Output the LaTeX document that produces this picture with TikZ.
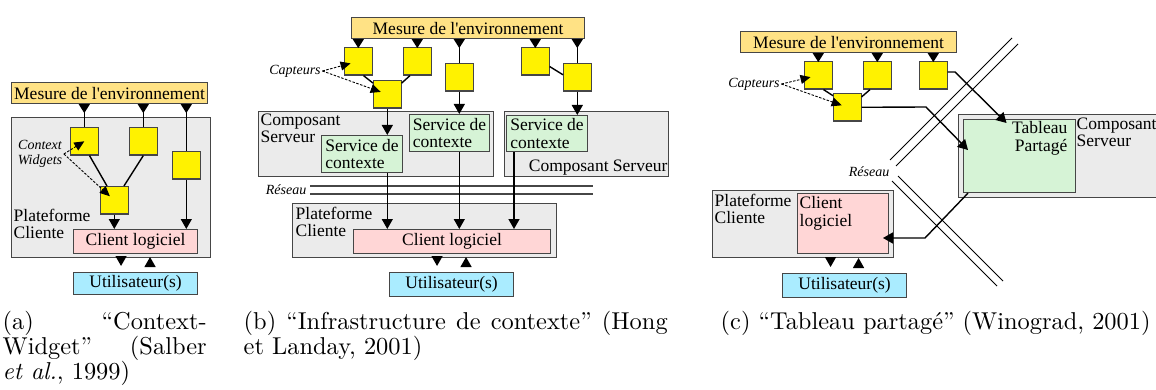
\documentclass[tikz,border=0pt]{standalone}
\usepackage{fontspec}
\usepackage{tikz}
\usetikzlibrary{arrows.meta}
\usetikzlibrary{positioning}

\newfontfamily\schemafont{Liberation Serif}
\newfontfamily\legendefont{lmroman10-regular.otf}[ItalicFont=lmroman10-italic.otf]
\newcommand{\schematext}{\schemafont\fontsize{17.5}{17.5}\selectfont}
\newcommand{\schemanote}{\schemafont\itshape\fontsize{14}{15}\selectfont}
\newcommand{\legende}{\legendefont\fontsize{24.4}{23}\selectfont}

\definecolor{mesureorange}{RGB}{255,226,133}
\definecolor{zonegray}{RGB}{235,235,235}
\definecolor{servicegreen}{RGB}{214,243,214}
\definecolor{clientpink}{RGB}{255,214,214}
\definecolor{usercyan}{RGB}{170,236,255}
\definecolor{edgegray}{RGB}{70,70,70}

\begin{document}
\begin{tikzpicture}[x=1pt,y=-1pt,line width=1.4pt,>={Triangle[width=11pt,length=10pt]},
    box node/.style={draw=edgegray,line width=1.1pt,inner sep=0pt,anchor=north west,font=\schematext},
    mesure node/.style={box node,fill=mesureorange,minimum height=21pt},
    capteur node/.style={box node,fill=yellow,minimum width=27.5pt,minimum height=27.5pt},
    zone node/.style={box node,fill=zonegray},
    service node/.style={box node,fill=servicegreen,inner sep=2.5pt,align=left},
    client node/.style={box node,fill=clientpink},
    user node/.style={box node,fill=usercyan,minimum width=124pt,minimum height=24pt},
    text node/.style={anchor=north west,inner sep=1pt,align=left,font=\schematext},
    note node/.style={inner sep=1pt,align=center,font=\schemanote},
    caption node/.style={anchor=north west,inner sep=0pt,align=justify,font=\legende},
    from mesure/.style={{Triangle[reversed,width=11pt,length=9pt]}-},
    sensor link/.style={line width=0.9pt,dash pattern=on 2.5pt off 1.5pt,-{Triangle[width=9pt,length=10pt]}},
    reseau line/.style={draw=edgegray,line width=2.2pt},
    wan line/.style={line width=1pt}]

  \useasboundingbox (0,0) rectangle (1156,390);

  % (a) Context-Widget
  \node[mesure node,minimum width=196pt] (mesA) at (11,82) {Mesure de l'environnement};
  \node[zone node,minimum width=199pt,minimum height=140pt] (platA) at (11,117) {};
  \node[capteur node] (capA1) at (70,127) {};
  \node[capteur node] (capA2) at (129,127) {};
  \node[capteur node] (capA3) at (172,151) {};
  \node[capteur node] (capA4) at (100,186) {};
  \node[client node,minimum width=124pt,minimum height=24pt] (cliA) at (73,229) {Client logiciel};
  \node[user node,minimum height=22pt] (userA) at (73,272) {Utilisateur(s)};
  \node[text node] at (12,207) {Plateforme\\Cliente};
  \node[note node] (widA) at (40,154) {Context\\Widgets};

  \draw[from mesure] (mesA.south -| capA1.north) -- (capA1.north);
  \draw[from mesure] (mesA.south -| capA2.north) -- (capA2.north);
  \draw[from mesure] (mesA.south -| capA3.north) -- (capA3.north);
  \draw (capA1.290) -- (capA4.117);
  \draw (capA2.south) -- (capA4.56);
  \draw[->] (capA4.south) -- (cliA.north -| capA4.south);
  \draw[->] (capA3.south) -- (cliA.north -| capA3.south);
  \draw[sensor link] (widA.east) -- (capA1.center);
  \draw[sensor link,shorten >=6pt] (widA.east) -- (capA4.center);
  \draw[->] ([xshift=-14.5pt]userA.north) ++(0,-15) -- ++(0,9);
  \draw[->] ([xshift=14.5pt]userA.north) ++(0,-6) -- ++(0,-9);

  % (b) Infrastructure de contexte
  \node[mesure node,minimum width=233pt] (mesB) at (351,17) {Mesure de l'environnement};
  \node[zone node,minimum width=235pt,minimum height=65pt] (compB1) at (258,111) {};
  \node[zone node,minimum width=164pt,minimum height=65pt] (compB2) at (504,111) {};
  \node[zone node,minimum width=264pt,minimum height=54pt] (platB) at (292,203) {};
  \node[capteur node] (capB1) at (344,47) {};
  \node[capteur node] (capB2) at (403,47) {};
  \node[capteur node] (capB3) at (373,80) {};
  \node[capteur node] (capB4) at (445,63) {};
  \node[capteur node] (capB5) at (521,47) {};
  \node[capteur node] (capB6) at (563,63) {};
  \node[service node,minimum width=81pt,minimum height=37pt] (servB1) at (321,135) {Service de\\contexte};
  \node[service node,minimum width=80pt,minimum height=37pt] (servB2) at (409,114) {Service de\\contexte};
  \node[service node,minimum width=81pt,minimum height=36pt] (servB3) at (506,115) {Service de\\contexte};
  \node[client node,minimum width=197pt,minimum height=24pt] (cliB) at (353,229) {Client logiciel};
  \node[user node] (userB) at (389,272) {Utilisateur(s)};
  \node[text node] at (259,112) {Composant\\Serveur};
  \node[text node,anchor=south east] at (compB2.south east) {Composant Serveur};
  \node[text node] at (294,205) {Plateforme\\Cliente};
  \node[note node] (captB) at (295,71) {Capteurs};
  \node[note node,anchor=east] (resB) at (308,190) {Réseau};

  \coordinate (netB1) at (310,186);
  \coordinate (netB2) at (593,186);
  \coordinate (netB3) at (310,194);
  \coordinate (netB4) at (593,194);
  \draw[reseau line] (netB1) -- (netB2);
  \draw[reseau line] (netB3) -- (netB4);

  \draw[from mesure] (mesB.south -| capB1.north) -- (capB1.north);
  \draw[from mesure] (mesB.south -| capB2.north) -- (capB2.north);
  \draw[from mesure] (mesB.south -| capB4.north) -- (capB4.north);
  \draw[from mesure] (mesB.south -| capB5.north) -- (capB5.north);
  \draw[from mesure] (mesB.south -| capB6.north) -- (capB6.north);
  \draw (capB1.290) -- (capB3.142);
  \draw (capB2.243) -- (capB3.38);
  \draw (capB5.340) -- (capB6.170);
  \draw[->] (capB3.south) -- (servB1.north -| capB3.south);
  \draw[->] (capB4.south) -- (servB2.north -| capB4.south);
  \draw[->] (capB6.south) -- (servB3.north -| capB6.south);
  \coordinate (servB3out) at ([xshift=8pt]servB3.south west);
  \draw[->] (servB1.south -| capB3.south) -- (cliB.north -| capB3.south);
  \draw[->] (servB2.south -| capB4.south) -- (cliB.north -| capB4.south);
  \draw[->] (servB3out) -- (cliB.north -| servB3out);
  \draw[sensor link,shorten >=8pt] (captB.east) -- (capB1.center);
  \draw[sensor link,shorten >=7pt] (captB.east) -- (capB3.center);
  \draw[->] ([xshift=-14.5pt]userB.north) ++(0,-15) -- ++(0,9);
  \draw[->] ([xshift=14.5pt]userB.north) ++(0,-6) -- ++(0,-9);

  % (c) Tableau partage
  \node[mesure node,minimum width=216pt] (mesC) at (740,31) {Mesure de l'environnement};
  \node[zone node,minimum width=205pt,minimum height=83pt] (compC) at (958,114) {};
  \node[service node,minimum width=112pt,minimum height=73pt] (tabC) at (963,119) {};
  \node[zone node,minimum width=181pt,minimum height=67pt] (platC) at (712,190) {};
  \node[client node,minimum width=91pt,minimum height=60pt] (cliC) at (797,193) {};
  \node[user node] (userC) at (782,273) {Utilisateur(s)};
  \node[capteur node] (capC1) at (804,61) {};
  \node[capteur node] (capC2) at (863,61) {};
  \node[capteur node] (capC3) at (919,61) {};
  \node[capteur node] (capC4) at (833,93) {};
  \node[text node,anchor=north east,align=right] at (1069,120) {Tableau\\Partagé};
  \node[text node] at (1075,116) {Composant\\Serveur};
  \node[text node] at (713,192) {Plateforme\\Cliente};
  \node[text node] at (798,195) {Client\\logiciel};
  \node[note node] (captC) at (754,84) {Capteurs};
  \node[note node,anchor=east] (resC) at (891,172) {Réseau};

  \coordinate (wanC1) at (890,160);
  \coordinate (wanC2) at (1012,38);
  \coordinate (wanC3) at (896,166);
  \coordinate (wanC4) at (1018,44);
  \coordinate (wanC5) at (892,181);
  \coordinate (wanC6) at (997,286);
  \coordinate (wanC7) at (898,176);
  \coordinate (wanC8) at (1003,281);
  \draw[wan line] (wanC1) -- (wanC2);
  \draw[wan line] (wanC3) -- (wanC4);
  \draw[wan line] (wanC5) -- (wanC6);
  \draw[wan line] (wanC7) -- (wanC8);

  \draw[from mesure] (mesC.south -| capC1.north) -- (capC1.north);
  \draw[from mesure] (mesC.south -| capC2.north) -- (capC2.north);
  \draw[from mesure] (mesC.south -| capC3.north) -- (capC3.north);
  \draw (capC1.290) -- (capC4.141);
  \draw (capC2.243) -- (capC4.36);
  \coordinate (coudeD) at (926,107);
  \coordinate (coudeC) at (955,72);
  \coordinate (coudeT) at (925,238);
  \draw[->] (capC4.east) -- (coudeD) -- ([xshift=5pt,yshift=6pt]tabC.west);
  \draw[->] (capC3.east |- coudeC) -- (coudeC) -- ([xshift=-13pt,yshift=-4pt]tabC.north);
  \draw[->] ([xshift=5pt]tabC.south west) -- (coudeT) -- ++(-42,0);
  \draw[sensor link,shorten >=8pt] (captC.east) -- (capC1.center);
  \draw[sensor link,shorten >=6pt] (captC.east) -- (capC4.center);
  \draw[->] ([xshift=-14pt]userC.north) ++(0,-15) -- ++(0,9);
  \draw[->] ([xshift=14pt]userC.north) ++(0,-6) -- ++(0,-9);

  % legendes
  \node[caption node,text width=204pt] (legA) at (2,310) {(a) “Context-\linebreak Widget” (Salber\linebreak \emph{et al.}, 1999)};
  \node[caption node,text width=424pt] (legB) at (243,310) {(b) “Infrastructure de contexte” (Hong\linebreak et Landay, 2001)};
  \node[caption node] (legC) at (720,310) {(c) “Tableau partagé” (Winograd, 2001)};

\end{tikzpicture}
\end{document}
